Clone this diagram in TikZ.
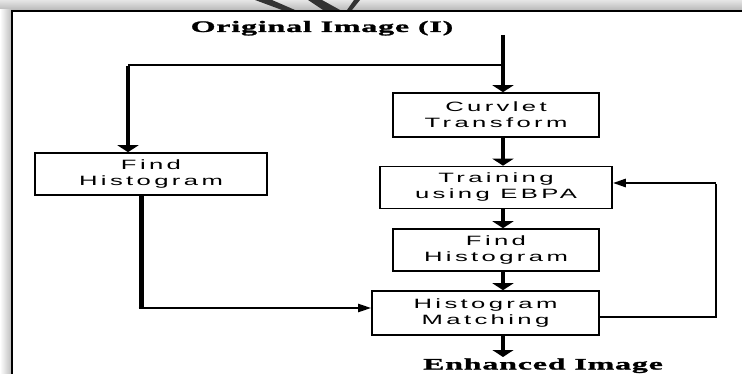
\documentclass[tikz,border=0pt]{standalone}
\usepackage{fontspec}
\usetikzlibrary{arrows.meta}
\newfontfamily\boxfont[FakeStretch=1.9,LetterSpace=25]{Liberation Sans}
\newfontfamily\capfont[FakeStretch=2.0,LetterSpace=5,FakeBold=1.5]{Liberation Serif Bold}
\tikzset{
  pbox/.style={draw=black, line width=1.6pt, fill=white, inner sep=0pt,
    align=center, font=\boxfont\fontsize{13.5}{16}\selectfont},
  caption/.style={font=\capfont\fontsize{16}{18}\selectfont, inner sep=0pt},
  mainarrow/.style={line width=4pt, -{Triangle[width=21pt,length=7pt]}},
  thinarrow/.style={line width=2pt, -{Triangle[width=8pt,length=13pt]}},
  thinline/.style={line width=2pt},
  thickline/.style={line width=4pt},
}
\begin{document}
\begin{tikzpicture}[x=1pt,y=-1pt]
\useasboundingbox (0,0) rectangle (742,374);
% frame shadow
\shade[top color=gray!20, bottom color=gray!55] (0,0) rectangle (742,10);
\shade[left color=white, right color=gray!50] (0,10) rectangle (11,374);
% watermark strokes
\fill[gray!40!black] (255,0) -- (272,0) -- (295,10) -- (282,10) -- cycle;
\fill[gray!40!black] (308,0) -- (322,0) -- (340,10) -- (323,10) -- cycle;
\fill[gray!40!black] (354,0) -- (360,0) -- (352,10) -- (347,10) -- cycle;
% frame lines
\draw[line width=2.5pt] (12,374) -- (12,11) -- (742,11);

% nodes
\node[caption, anchor=base] (title) at (322,32) {Original Image (I)};
\node[pbox, minimum width=206pt, minimum height=44pt] (curv) at (496,115) {Curvlet\\Transform};
\node[pbox, minimum width=232pt, minimum height=42pt] (train) at (496,187.5) {Training\\using EBPA};
\node[pbox, minimum width=206pt, minimum height=42pt] (fh2) at (496,250) {Find\\Histogram};
\node[pbox, minimum width=227pt, minimum height=44pt] (hm) at (485.5,313) {Histogram\\Matching};
\node[pbox, minimum width=232pt, minimum height=42pt] (fh1) at (151,174) {Find\\Histogram};
\node[caption, anchor=base] (enh) at (543,369.5) {Enhanced Image};

% connector points
\coordinate (top) at (503,35);
\coordinate (br) at (503,65);
\coordinate (lb) at (128,65);
\coordinate (lc) at (141,308);
\coordinate (fb1) at (716,317);
\coordinate (fb2) at (716,183);
\coordinate (bot) at (503,357);

% main column arrows
\draw[mainarrow] (top) -- (top |- curv.north);
\draw[mainarrow] (curv.south -| top) -- (train.north -| top);
\draw[mainarrow] (train.south -| top) -- (fh2.north -| top);
\draw[mainarrow] (fh2.south -| top) -- (hm.north -| top);
\draw[mainarrow] (hm.south -| top) -- (bot);

% branch to left
\draw[thinline] (br) -- (lb);
\draw[mainarrow] ([yshift=-1pt]lb) -- (lb |- fh1.north);

% left box to matching
\draw[line width=5pt] (fh1.south -| lc) -- ([yshift=1pt]lc);
\draw[thinarrow] ([xshift=-2.5pt]lc) -- (hm.west |- lc);

% feedback
\draw[line width=1.5pt] (hm.east |- fb1) -- ([xshift=1.25pt]fb1);
\draw[line width=2.5pt] (fb1) -- ([yshift=-1.25pt]fb2);
\draw[line width=2.5pt, -{Triangle[width=8pt,length=13pt]}] (fb2) -- (train.east |- fb2);
\end{tikzpicture}
\end{document}
